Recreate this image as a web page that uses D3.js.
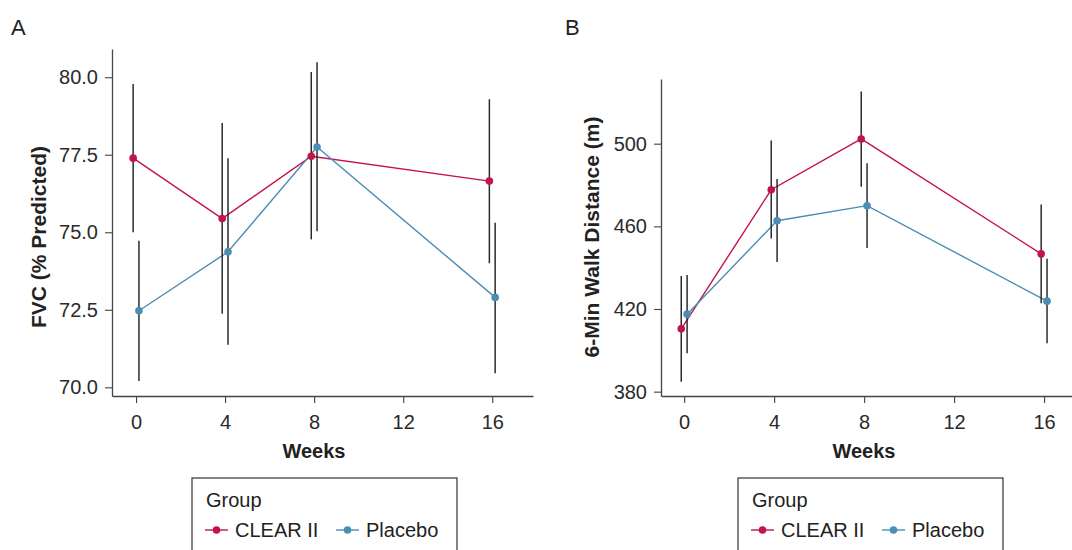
<!DOCTYPE html>
<html>
<head>
<meta charset="utf-8">
<script src="https://cdn.jsdelivr.net/npm/d3@7"></script>
<style>
  body { margin: 0; background: #fff; }
  svg { display: block; font-family: "Liberation Sans", Arial, sans-serif; }
</style>
</head>
<body>
<svg id="chart" width="1072" height="550"></svg>
<script>
// data
const weeks = [0, 4, 8, 16];
const groups = ["CLEAR II", "Placebo"];

// panel A: FVC (% predicted), mean with lower / upper bar
const fvcClear = [77.39, 75.44, 77.45, 76.65];
const fvcClearLo = [75.0, 72.37, 74.77, 74.0];
const fvcClearHi = [79.78, 78.52, 80.17, 79.29];
const fvcPlacebo = [72.47, 74.37, 77.75, 72.9];
const fvcPlaceboLo = [70.2, 71.37, 75.03, 70.45];
const fvcPlaceboHi = [74.73, 77.39, 80.48, 75.31];
const fvcTicks = [70, 72.5, 75, 77.5, 80];

// panel B: 6-min walk distance (m)
const walkClear = [410.4, 477.7, 502.3, 446.7];
const walkClearLo = [384.8, 454.1, 479.2, 422.8];
const walkClearHi = [436.0, 501.5, 525.2, 470.6];
const walkPlacebo = [417.5, 462.7, 470.0, 423.8];
const walkPlaceboLo = [398.6, 442.7, 449.5, 403.4];
const walkPlaceboHi = [436.4, 482.9, 490.5, 444.3];
const walkTicks = [380, 420, 460, 500];

const xTicks = [0, 4, 8, 12, 16];

const color = d3.scaleOrdinal().domain(groups).range(["#c2134d", "#4a8db5"]);
const dodge = { "CLEAR II": -0.13, "Placebo": 0.13 };
const ink = "#2b2b2b";

const svg = d3.select("#chart");

function rows(mean, lo, hi, group) {
  return weeks.map((w, i) => ({ week: w, group: group, mean: mean[i], lo: lo[i], hi: hi[i] }));
}

function drawPanel(cfg) {
  const g = svg.append("g");

  const x = d3.scaleLinear().domain(cfg.xDomain).range(cfg.xRange);
  const y = d3.scaleLinear().domain(cfg.yDomain).range([396, cfg.yTop]);

  // axes
  const xAxis = g.append("g")
    .attr("transform", "translate(0,396)")
    .call(d3.axisBottom(x).tickValues(xTicks).tickSize(7).tickPadding(12).tickSizeOuter(0));
  const yAxis = g.append("g")
    .attr("transform", `translate(${cfg.xRange[0]},0)`)
    .call(d3.axisLeft(y).tickValues(cfg.yTicks).tickFormat(cfg.fmt).tickSize(7).tickPadding(7).tickSizeOuter(0));
  [xAxis, yAxis].forEach(a => {
    a.select(".domain").attr("stroke", "#444").attr("stroke-width", 1.3);
    a.selectAll(".tick line").attr("stroke", "#444").attr("stroke-width", 1.1);
    a.selectAll(".tick text").attr("fill", "#2a2a2a").style("font-size", "20px")
      .style("font-family", "'Liberation Sans', Arial, sans-serif");
  });

  // axis titles
  g.append("text")
    .attr("x", cfg.weeksX).attr("y", 458)
    .attr("text-anchor", "middle")
    .style("font-size", "20px").style("font-weight", "bold").attr("fill", "#222")
    .text("Weeks");
  g.append("text")
    .attr("transform", `translate(${cfg.yTitleX},237) rotate(-90)`)
    .attr("text-anchor", "middle")
    .style("font-size", "21px").style("font-weight", "bold").attr("fill", "#222")
    .text(cfg.yTitle);

  // panel letter
  g.append("text")
    .attr("x", cfg.letterX).attr("y", 35)
    .style("font-size", "22px").attr("fill", "#222")
    .text(cfg.letter);

  const line = d3.line()
    .x(d => x(d.week + dodge[d.group]))
    .y(d => y(d.mean));

  cfg.series.forEach(s => {
    g.append("path")
      .datum(s)
      .attr("fill", "none")
      .attr("stroke", d => color(d[0].group))
      .attr("stroke-width", 1.4)
      .attr("d", line);
  });

  const all = cfg.series.flat();
  g.selectAll(".bar")
    .data(all)
    .join("line")
    .attr("x1", d => x(d.week + dodge[d.group]))
    .attr("x2", d => x(d.week + dodge[d.group]))
    .attr("y1", d => y(d.lo))
    .attr("y2", d => y(d.hi))
    .attr("stroke", ink)
    .attr("stroke-width", 1.5);

  g.selectAll(".pt")
    .data(all)
    .join("circle")
    .attr("cx", d => x(d.week + dodge[d.group]))
    .attr("cy", d => y(d.mean))
    .attr("r", 3.8)
    .attr("fill", d => color(d.group));

  // legend
  const lg = g.append("g").attr("transform", `translate(${cfg.legendX},478)`);
  lg.append("rect")
    .attr("x", 0).attr("y", 0).attr("width", 265).attr("height", 90)
    .attr("fill", "none").attr("stroke", "#333").attr("stroke-width", 1.2);
  lg.append("text").attr("x", 14).attr("y", 29)
    .style("font-size", "20px").attr("fill", "#222").text("Group");
  const keyX = [13, 144];
  groups.forEach((grp, i) => {
    const k = lg.append("g").attr("transform", `translate(${keyX[i]},52)`);
    k.append("line").attr("x1", 0).attr("x2", 23).attr("y1", 0).attr("y2", 0)
      .attr("stroke", color(grp)).attr("stroke-width", 1.4);
    k.append("circle").attr("cx", 11.5).attr("cy", 0).attr("r", 3.8).attr("fill", color(grp));
    k.append("text").attr("x", 30).attr("y", 7)
      .style("font-size", "20px").attr("fill", "#222").text(grp);
  });
}

drawPanel({
  letter: "A", letterX: 11,
  xDomain: [-1.08, 17.83], xRange: [112, 533],
  yDomain: [69.72, 80.91], yTop: 49,
  yTicks: fvcTicks, fmt: d3.format(".1f"),
  yTitle: "FVC (% Predicted)", yTitleX: 46,
  weeksX: 314, legendX: 192,
  series: [
    rows(fvcClear, fvcClearLo, fvcClearHi, "CLEAR II"),
    rows(fvcPlacebo, fvcPlaceboLo, fvcPlaceboHi, "Placebo")
  ]
});

drawPanel({
  letter: "B", letterX: 565,
  xDomain: [-1.03, 17.24], xRange: [661, 1072],
  yDomain: [377.9, 531.3], yTop: 79,
  yTicks: walkTicks, fmt: d3.format("d"),
  yTitle: "6-Min Walk Distance (m)", yTitleX: 599,
  weeksX: 864, legendX: 738,
  series: [
    rows(walkClear, walkClearLo, walkClearHi, "CLEAR II"),
    rows(walkPlacebo, walkPlaceboLo, walkPlaceboHi, "Placebo")
  ]
});
</script>
</body>
</html>
